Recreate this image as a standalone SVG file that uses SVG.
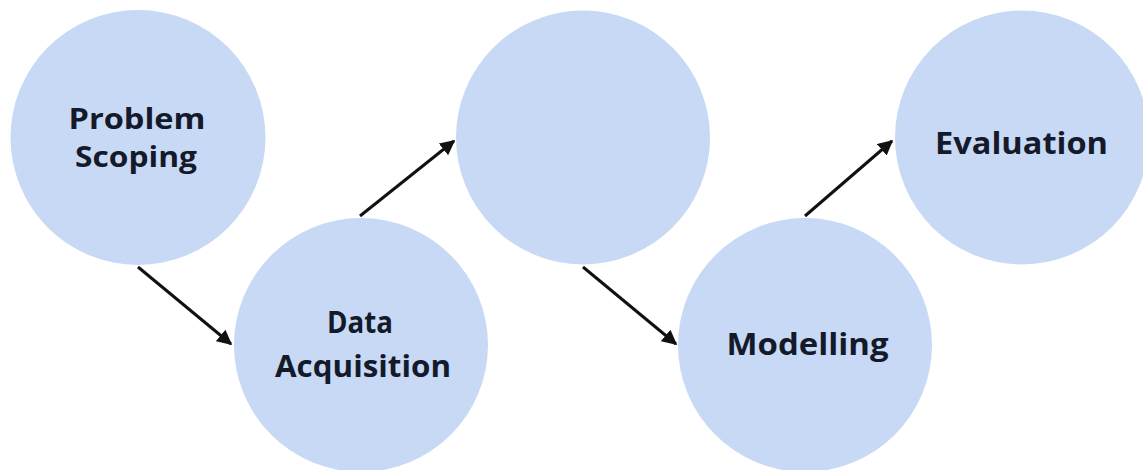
<svg xmlns="http://www.w3.org/2000/svg" width="1143" height="470" viewBox="0 0 1143 470">
<style>
.node{fill:#c7d9f5}
.lbl{font-family:"Open Sans","Liberation Sans",sans-serif;font-weight:700;font-size:31px;fill:#141a2a;text-anchor:middle}
.sm{font-size:29px}
.conn{stroke:#111;stroke-width:3;fill:none;marker-end:url(#ah)}
</style>
<defs>
<marker id="ah" viewBox="0 0 10 10" refX="9" refY="5" markerWidth="5" markerHeight="5" orient="auto" markerUnits="strokeWidth">
<path d="M0,0 L10,5 L0,10 z" fill="#111"/>
</marker>
</defs>
<rect width="1143" height="470" fill="#fff"/>
<g id="n-problem-scoping">
<circle class="node" cx="138" cy="137.5" r="127.5"/>
<text class="lbl sm" x="137" y="129" textLength="137" lengthAdjust="spacingAndGlyphs">Problem</text>
<text class="lbl sm" x="136" y="167" textLength="122" lengthAdjust="spacingAndGlyphs">Scoping</text>
</g>
<g id="n-data-acquisition">
<circle class="node" cx="361" cy="345" r="127"/>
<text class="lbl" x="360" y="333" textLength="66" lengthAdjust="spacingAndGlyphs">Data</text>
<text class="lbl" x="363" y="377" textLength="176" lengthAdjust="spacingAndGlyphs">Acquisition</text>
</g>
<g id="n-empty">
<circle class="node" cx="583" cy="137.5" r="127"/>
</g>
<g id="n-modelling">
<circle class="node" cx="805" cy="345" r="127"/>
<text class="lbl" x="807.5" y="355" textLength="162" lengthAdjust="spacingAndGlyphs">Modelling</text>
</g>
<g id="n-evaluation">
<circle class="node" cx="1022" cy="137.5" r="127"/>
<text class="lbl" x="1021.5" y="154" textLength="173" lengthAdjust="spacingAndGlyphs">Evaluation</text>
</g>
<g id="connectors">
<line class="conn" x1="138" y1="267" x2="231" y2="344"/>
<line class="conn" x1="360" y1="216" x2="454" y2="141"/>
<line class="conn" x1="583" y1="267" x2="676" y2="344"/>
<line class="conn" x1="805" y1="216" x2="892" y2="141"/>
</g>
</svg>
